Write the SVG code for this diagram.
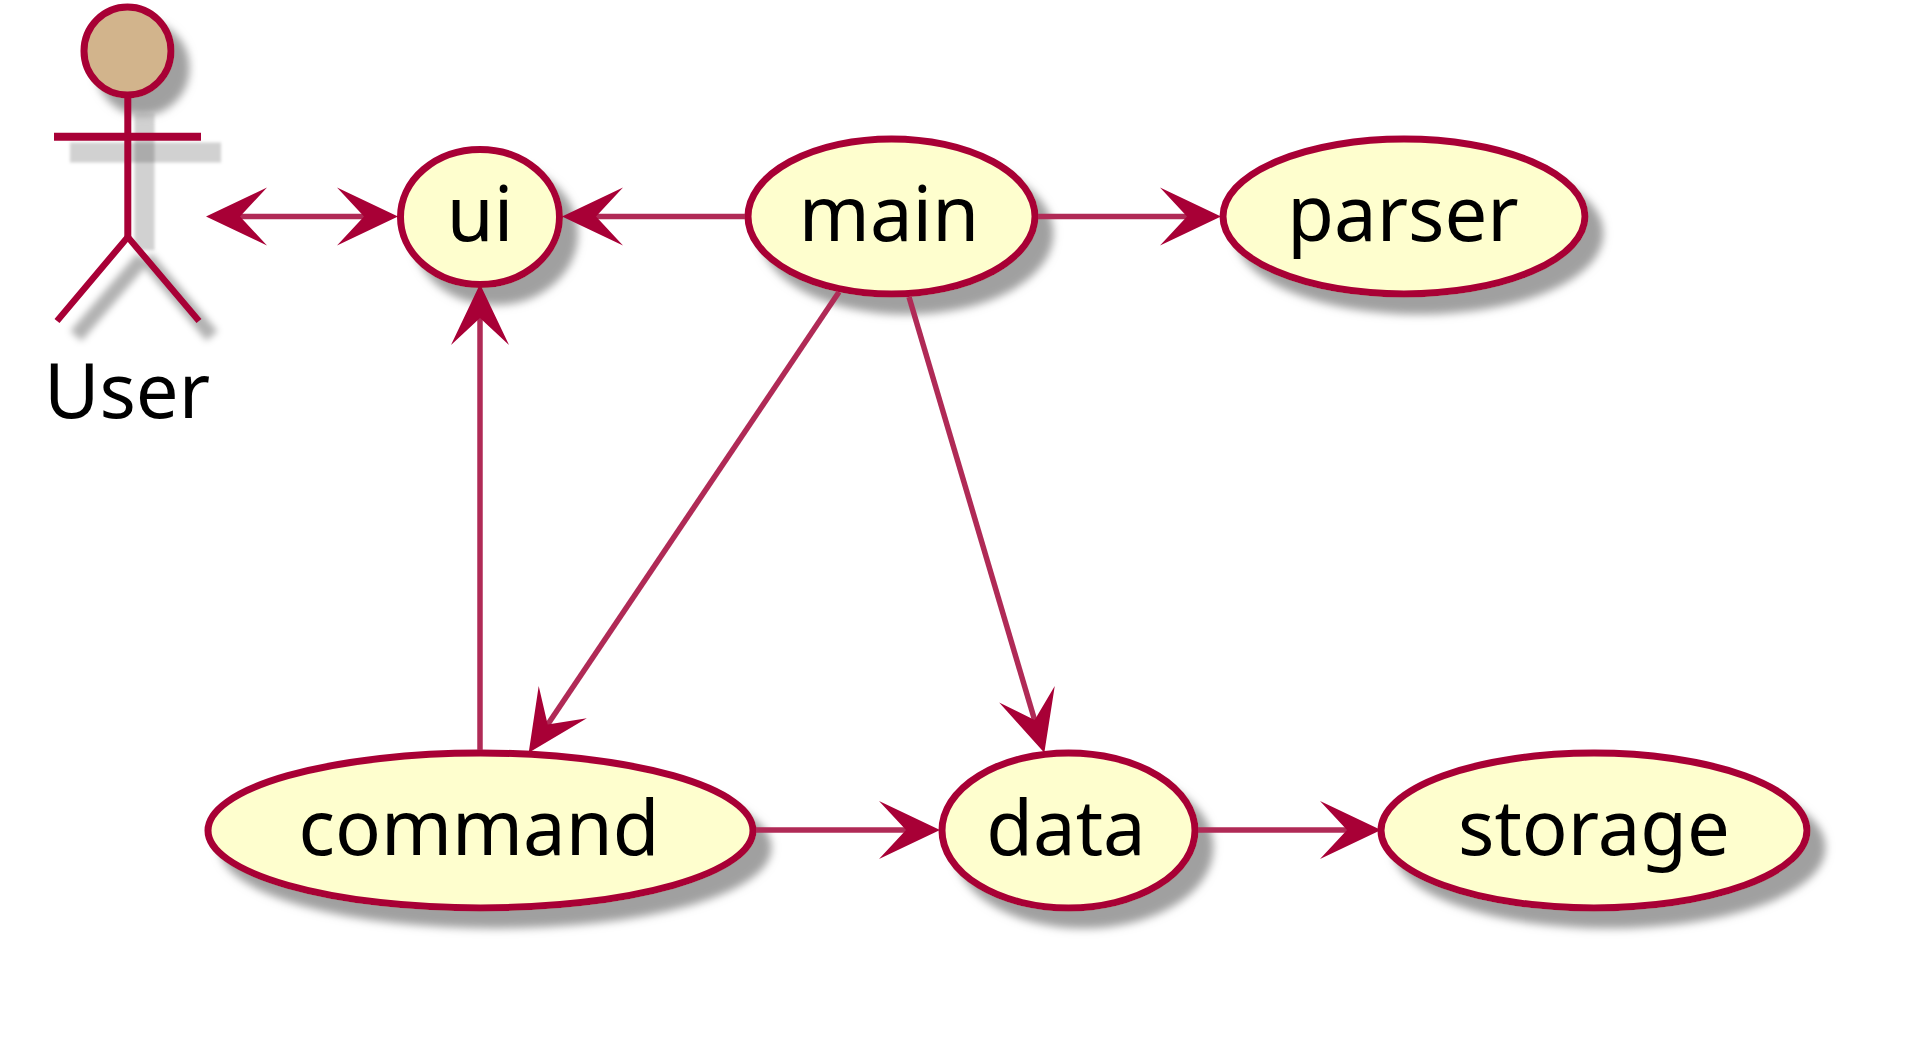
<svg xmlns="http://www.w3.org/2000/svg" width="1906" height="1040" viewBox="0 0 1906 1040">
<style>
.uc{fill:#FEFECE;stroke:#A80036;stroke-width:7;filter:url(#sh)}
.lb{font-family:"Noto Sans","DejaVu Sans",sans-serif;font-size:76px;fill:#000;text-anchor:middle}
.con{stroke:#B02A56;stroke-width:5.5;fill:none;marker-end:url(#ah)}
.ac{stroke:#A80036;stroke-width:7;fill:none}
.acs{stroke:#000;stroke-opacity:.18;stroke-width:20;fill:none;filter:url(#bl)}
.acl{stroke:#000;stroke-opacity:.3;stroke-width:15;fill:none;filter:url(#bl2)}
</style>
<defs>
<filter id="sh" x="-20%" y="-20%" width="150%" height="160%"><feDropShadow dx="15" dy="17" stdDeviation="4" flood-color="#a0a0a0"/></filter>
<filter id="bl" filterUnits="userSpaceOnUse" x="40" y="90" width="210" height="180"><feGaussianBlur stdDeviation="1.5"/></filter>
<filter id="bl2" filterUnits="userSpaceOnUse" x="40" y="230" width="210" height="130"><feGaussianBlur stdDeviation="3.5"/></filter>
<marker id="ah" markerUnits="userSpaceOnUse" markerWidth="61" markerHeight="58" viewBox="0 0 61 58" refX="30" refY="29" orient="auto-start-reverse" overflow="visible"><path d="M61,29 L0,0 L27,29 L0,58 Z" fill="#A80036"/></marker>
</defs>
<rect width="1906" height="1040" fill="#fff"/>
<g id="actor-user">
<path class="acs" d="M70,152.5H221"/>
<path class="acs" d="M144.5,113V250"/>
<path class="acl" d="M143,258L76,336M146,258L212,336"/>
<ellipse cx="127.5" cy="51" rx="43.5" ry="44" fill="#D2B48C" stroke="#A80036" stroke-width="7" filter="url(#sh)"/>
<path class="ac" d="M127.8,94V237"/>
<path class="ac" d="M127.8,237L57,321M127.8,237L199,321" style="stroke-width:6.5"/>
<path class="ac" d="M54,136.7H201" style="stroke-width:8"/>
<text class="lb" x="127" y="418">User</text>
</g>
<g id="ui"><ellipse class="uc" cx="480" cy="217" rx="79.5" ry="67.5"/><text class="lb" x="480" y="241">ui</text></g>
<g id="main"><ellipse class="uc" cx="891.5" cy="216.5" rx="143.5" ry="77.5"/><text class="lb" x="889" y="241">main</text></g>
<g id="parser"><ellipse class="uc" cx="1404" cy="216.5" rx="181" ry="77.5"/><text class="lb" x="1403" y="241">parser</text></g>
<g id="command"><ellipse class="uc" cx="480.5" cy="830.5" rx="272.5" ry="77.5"/><text class="lb" x="479" y="855">command</text></g>
<g id="data"><ellipse class="uc" cx="1068.5" cy="830.5" rx="126.5" ry="77.5"/><text class="lb" x="1066" y="855">data</text></g>
<g id="storage"><ellipse class="uc" cx="1594" cy="830.5" rx="213" ry="77.5"/><text class="lb" x="1594" y="855">storage</text></g>
<g id="connectors">
<path class="con" d="M237,216.5H367" style="marker-start:url(#ah)"/>
<path class="con" d="M745,216.5H593"/>
<path class="con" d="M1038,216.5H1190"/>
<path class="con" d="M480,750V315"/>
<path class="con" d="M839,292L546,727"/>
<path class="con" d="M909,297L1035.5,723"/>
<path class="con" d="M756,830H909"/>
<path class="con" d="M1198,830H1350"/>
</g>
</svg>
